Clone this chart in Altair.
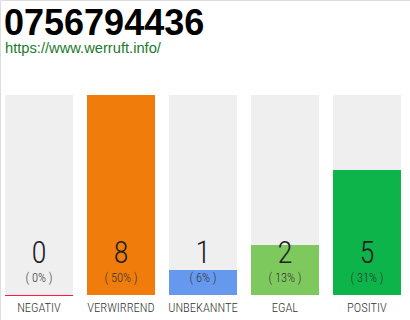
import altair as alt
import pandas as pd

# Vote breakdown for one phone number
title_text = "0756794436"
subtitle_text = "https://www.werruft.info/"
categories = ["NEGATIV", "VERWIRREND", "UNBEKANNTE", "EGAL", "POSITIV"]
counts = [0, 8, 1, 2, 5]
percents = ["( 0% )", "( 50% )", "( 6% )", "( 13% )", "( 31% )"]
bar_colors = ["#ff1a44", "#f07c0c", "#6699ee", "#7dc95e", "#0cb44a"]

LIGHT = "Roboto Condensed, Roboto, sans-serif"

df = pd.DataFrame({
    "cat": categories,
    "count": counts,
    "pct": percents,
    "full": [max(counts)] * len(categories),
})

x_enc = alt.X("cat:N", sort=categories,
              scale=alt.Scale(range=[5, 401], paddingInner=14 / 82, paddingOuter=0),
              axis=None)
y_scale = alt.Scale(domain=[0, max(counts)], range=[295, 95], nice=False)
color_enc = alt.Color("cat:N", scale=alt.Scale(domain=categories, range=bar_colors),
                      legend=None)

base = alt.Chart(df)

background = base.mark_bar(color="#efefef").encode(
    x=x_enc,
    y=alt.Y("full:Q", scale=y_scale, axis=None),
)

bars = base.mark_bar().encode(
    x=x_enc,
    y=alt.Y("count:Q", scale=y_scale, axis=None),
    color=color_enc,
)

# a thin coloured baseline for categories without any votes
zero_line = base.transform_filter("datum.count == 0").mark_tick(
    orient="horizontal", thickness=1, size=68, yOffset=0.5, opacity=1
).encode(
    x=x_enc,
    y=alt.Y("count:Q", scale=y_scale, axis=None),
    color=color_enc,
)

count_text = base.mark_text(font=LIGHT, fontSize=31, fontWeight=300, color="#222222",
                            baseline="alphabetic").encode(
    x=x_enc, y=alt.value(263), text="count:Q")

pct_text = base.mark_text(font=LIGHT, fontSize=12.5, fontWeight=300, color="#333333",
                          baseline="alphabetic").encode(
    x=x_enc, y=alt.value(282), text="pct:N")

label_text = base.mark_text(font=LIGHT, fontSize=12.5, fontWeight=300, color="#333333",
                            baseline="alphabetic").encode(
    x=x_enc, y=alt.value(312), text="cat:N")

head = pd.DataFrame({"title": [title_text], "sub": [subtitle_text]})

title_mark = alt.Chart(head).mark_text(
    font="Liberation Sans, Arial, sans-serif", fontSize=36, fontWeight="bold",
    color="#000000", align="left", baseline="alphabetic"
).encode(x=alt.value(4), y=alt.value(35), text="title:N")

subtitle_mark = alt.Chart(head).mark_text(
    font="Liberation Sans, Arial, sans-serif", fontSize=14.7, color="#217a2e",
    align="left", baseline="alphabetic"
).encode(x=alt.value(5), y=alt.value(53), text="sub:N")

chart = alt.layer(
    background, bars, zero_line, count_text, pct_text, label_text,
    title_mark, subtitle_mark
).properties(
    width=410, height=320,
    autosize=alt.AutoSizeParams(type="none"),
    padding=0,
).configure_view(stroke=None).configure(background="#ffffff")

chart.save("out.html", embed_options={"renderer": "svg", "actions": False})
